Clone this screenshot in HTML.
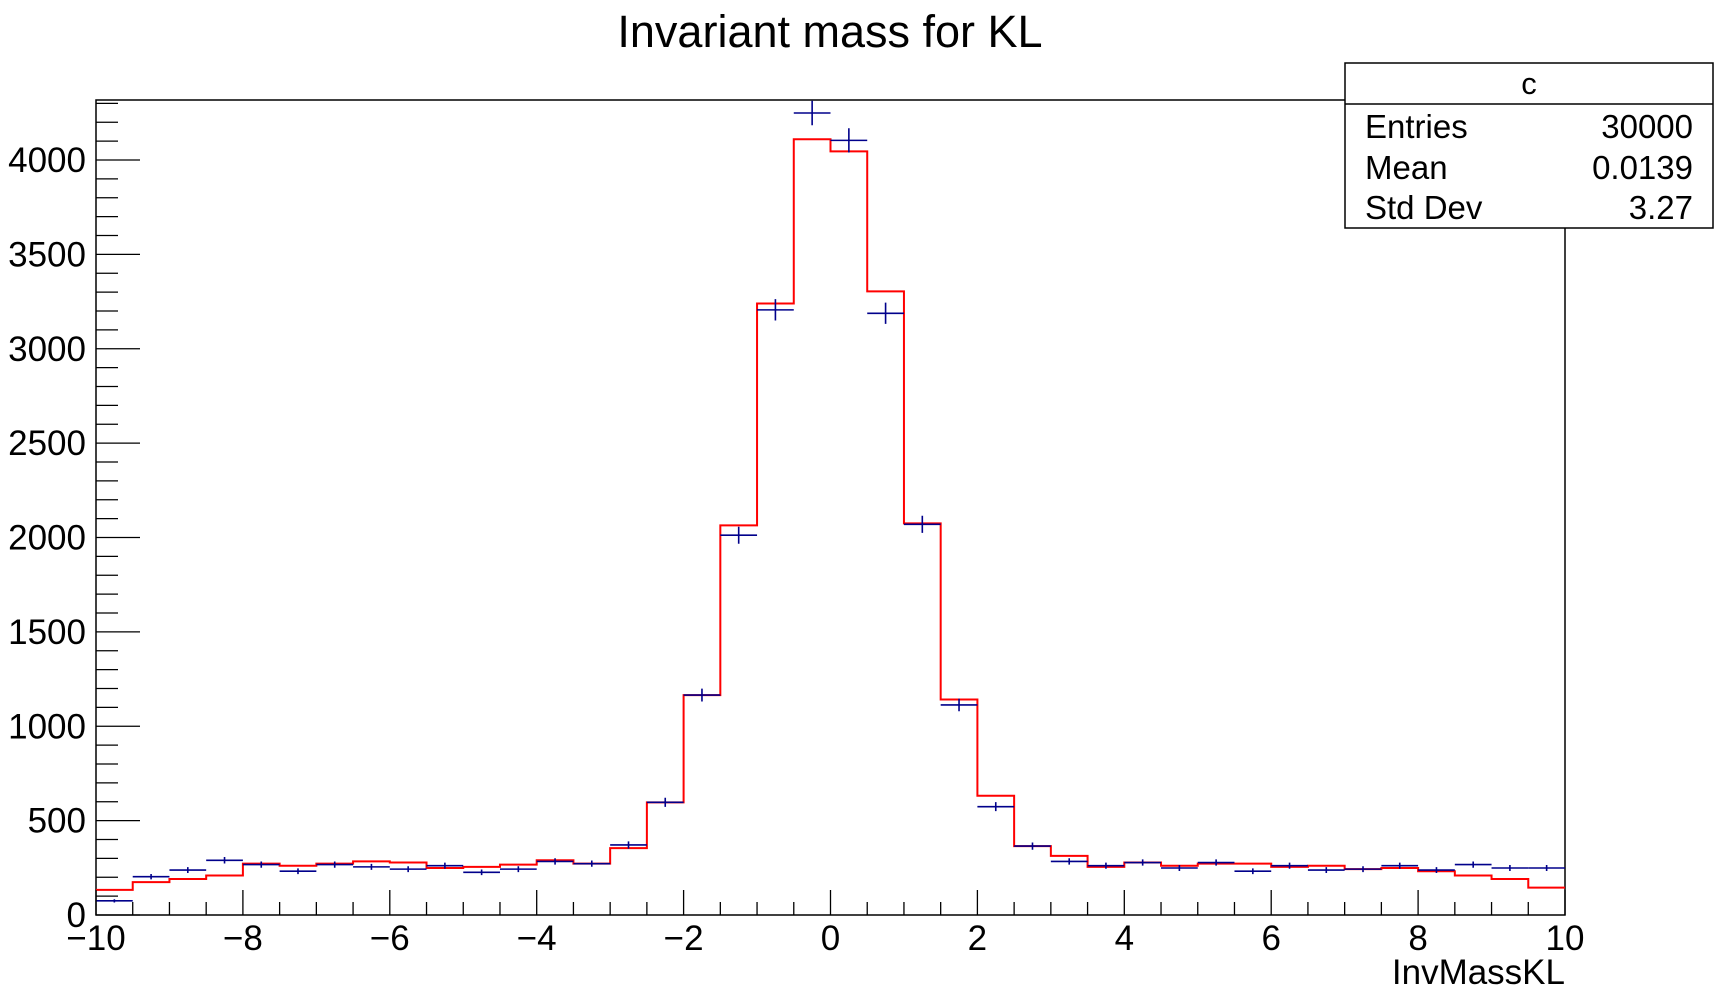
<!DOCTYPE html>
<html><head><meta charset="utf-8"><style>
html,body{margin:0;padding:0;background:#fff;}
svg{display:block;font-family:"Liberation Sans",sans-serif;}
</style></head><body>
<svg id="chart" width="1715" height="992">
<text x="830" y="47" font-size="45" text-anchor="middle">Invariant mass for KL</text>
<g id="plot"></g>
<g>
<rect x="1345" y="63" width="368" height="165" fill="#fff" stroke="#000" stroke-width="1.5"/>
<line x1="1345" y1="104" x2="1713" y2="104" stroke="#000" stroke-width="1.5"/>
<text x="1529" y="94" font-size="31" text-anchor="middle">c</text>
<text x="1365" y="138" font-size="33">Entries</text>
<text x="1693" y="138" font-size="33" text-anchor="end">30000</text>
<text x="1365" y="179" font-size="33">Mean</text>
<text x="1693" y="179" font-size="33" text-anchor="end">0.0139</text>
<text x="1365" y="219" font-size="33">Std Dev</text>
<text x="1693" y="219" font-size="33" text-anchor="end">3.27</text>
</g>
</svg>
<script>
const binEdgesStart = -10;
const binWidth = 0.5;
const redCounts = [133,174,191,209,272,261,272,284,278,249,255,267,290,272,354,597,1165,2064,3240,4110,4046,3304,2075,1142,632,365,313,255,278,261,272,272,255,261,243,249,232,209,191,145];
const blueCounts = [75,203,238,290,267,232,267,255,243,261,226,243,284,272,371,597,1165,2012,3206,4249,4104,3188,2070,1113,574,365,284,261,278,249,278,232,261,238,243,261,238,267,249,249];
const xTicks = [-10,-8,-6,-4,-2,0,2,4,6,8,10];
const xTickLabels = ["\u221210","\u22128","\u22126","\u22124","\u22122","0","2","4","6","8","10"];
const yTicks = [0,500,1000,1500,2000,2500,3000,3500,4000];

const L=96,R=1565,T=100,B=915;
const X=v=>L+(v+10)/20*(R-L);
const Y=v=>B-v*(B-160)/4000;
const NS="http://www.w3.org/2000/svg";
const g=document.getElementById('plot');
function mk(tag,attrs,parent){const e=document.createElementNS(NS,tag);for(const k in attrs)e.setAttribute(k,attrs[k]);(parent||g).appendChild(e);return e;}

const frame=mk('rect',{x:L,y:T,width:R-L,height:B-T,fill:'none',stroke:'#000','stroke-width':1.5});



let d='';
redCounts.forEach((c,i)=>{const x0=X(binEdgesStart+i*binWidth),x1=X(binEdgesStart+(i+1)*binWidth);
 d+=(i===0?`M${x0},${Y(c)}`:`L${x0},${Y(c)}`)+`L${x1},${Y(c)}`;});
const red=mk('path',{d:d,fill:'none',stroke:'#ff0000','stroke-width':2});



blueCounts.forEach((c,i)=>{const x0=X(binEdgesStart+i*binWidth),x1=X(binEdgesStart+(i+1)*binWidth),xm=(x0+x1)/2;
 const e=Math.sqrt(c);
 const pt=mk('path',{d:`M${x0},${Y(c)}L${x1},${Y(c)}M${xm},${Y(c+e)}L${xm},${Y(Math.max(0,c-e))}`,stroke:'#00008b','stroke-width':1.6,fill:'none'});
 
 
});

for(let v=-10;v<=10.001;v+=0.5){const major=Math.abs(v/2-Math.round(v/2))<1e-6;
 mk('line',{x1:X(v),x2:X(v),y1:B,y2:B-(major?25:13),stroke:'#000','stroke-width':1.3});}
xTicks.forEach((v,i)=>{const t=mk('text',{x:X(v),y:950,'font-size':35,'text-anchor':'middle'});t.textContent=xTickLabels[i];
 
 });
for(let v=0;v*(B-160)/4000<=B-T+0.5;v+=100){const major=v%500===0;
 mk('line',{x1:L,x2:L+(major?44:22),y1:Y(v),y2:Y(v),stroke:'#000','stroke-width':1.3});}
yTicks.forEach(v=>{const t=mk('text',{x:L-10,y:Y(v)+12,'font-size':35,'text-anchor':'end'});t.textContent=String(v);
 
 });
const xt=mk('text',{x:R,y:984,'font-size':35,'text-anchor':'end'});xt.textContent='InvMassKL';


</script>
</body></html>
